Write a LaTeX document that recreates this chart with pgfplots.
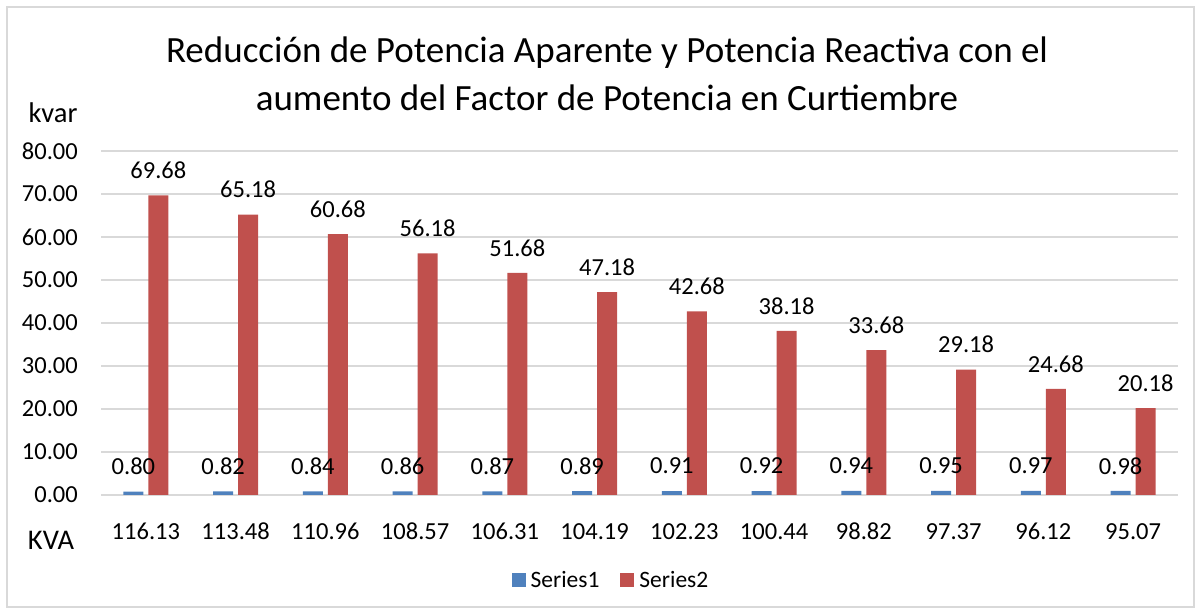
\documentclass[border=0pt]{standalone}
\usepackage{fontspec}
\setmainfont{Carlito}
\usepackage{pgfplots}
\pgfplotsset{compat=1.18}
\definecolor{serA}{HTML}{4F81BD}
\definecolor{serB}{HTML}{C0504D}
\definecolor{gridc}{HTML}{D9D9D9}
\newcommand{\lbl}{\fontsize{24.5bp}{29bp}\selectfont}
\newcommand{\leg}{\fontsize{23.5bp}{28bp}\selectfont}
\newcommand{\axt}{\fontsize{28.5bp}{34bp}\selectfont}
\newcommand{\ttl}{\fontsize{37bp}{44bp}\selectfont}

\begin{document}
\begin{tikzpicture}
\useasboundingbox (0bp,0bp) rectangle (1201bp,614bp);
\draw[gridc, line width=1.5bp] (7bp,7bp) rectangle (1194bp,607bp);
\node[font=\ttl] at (607bp,561bp) {Reducción de Potencia Aparente y Potencia Reactiva con el};
\node[font=\ttl] at (607bp,516bp) {aumento del Factor de Potencia en Curtiembre};
\node[font=\axt] at (53bp,501bp) {kvar};
\node[font=\axt] at (51bp,74bp) {KVA};

\begin{axis}[
  at={(101bp,119bp)}, anchor=south west,
  scale only axis, width=1077bp, height=344bp,
  xmin=-0.5, xmax=11.5, ymin=0, ymax=80,
  enlargelimits=false, clip=false,
  /pgf/number format/assume math mode=true,
  xtick={0,...,11},
  xticklabels={116.13,113.48,110.96,108.57,106.31,104.19,102.23,100.44,98.82,97.37,96.12,95.07},
  ytick={0,10,...,80},
  yticklabel style={/pgf/number format/fixed, /pgf/number format/fixed zerofill,
    /pgf/number format/precision=2, anchor=east, inner sep=0pt, xshift=-23bp},
  xticklabel style={anchor=center, inner sep=0pt, yshift=-32bp},
  tick label style={font=\lbl},
  axis line style={draw=none}, tick style={draw=none},
  ymajorgrids, major grid style={gridc, line width=1.5bp},
  ybar=5bp, bar width=20bp,
  nodes near coords={\pgfmathprintnumber[fixed,fixed zerofill,precision=2]{\pgfplotspointmeta}},
  every node near coord/.append style={font=\lbl, text=black, anchor=center, yshift=25bp},
  legend style={at={(0.4735,-0.247)}, anchor=center, draw=none, fill=none,
    legend columns=-1, font=\leg,
    /tikz/every odd column/.append style={column sep=3bp},
    /tikz/every even column/.append style={column sep=19bp}},
  legend image code/.code={\fill[#1] (0bp,-7bp) rectangle (14bp,7bp);},
]
\addplot[fill=serA, draw=none] coordinates {
  (0,0.80) (1,0.82) (2,0.84) (3,0.86) (4,0.87) (5,0.89)
  (6,0.91) (7,0.92) (8,0.94) (9,0.95) (10,0.97) (11,0.98)
};
\addplot[fill=serB, draw=none] coordinates {
  (0,69.68) (1,65.18) (2,60.68) (3,56.18) (4,51.68) (5,47.18)
  (6,42.68) (7,38.18) (8,33.68) (9,29.18) (10,24.68) (11,20.18)
};
\legend{Series1,Series2}
\end{axis}
\end{tikzpicture}
\end{document}
